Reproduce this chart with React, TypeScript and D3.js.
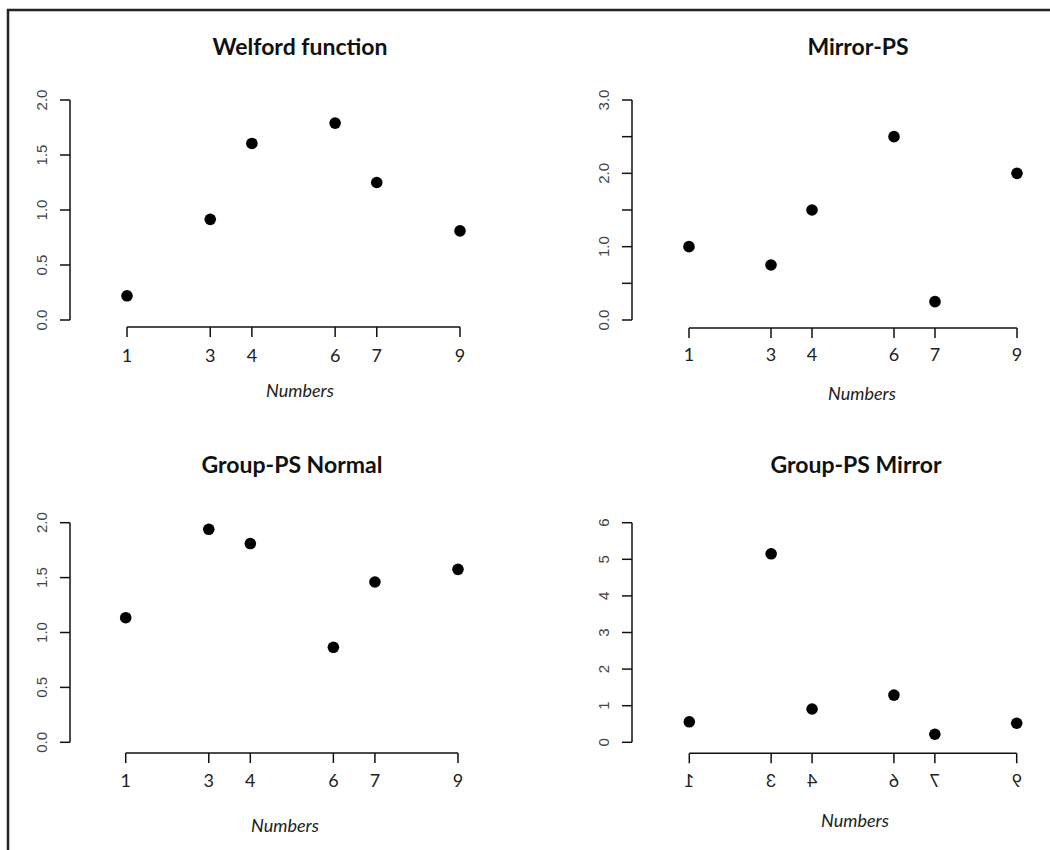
import React from 'react';
import * as d3 from 'd3';

// x positions shared by all four panels
const numbers = [1, 3, 4, 6, 7, 9];

const welfordValues = [0.22, 0.915, 1.605, 1.79, 1.25, 0.81];
const mirrorPsValues = [1.0, 0.75, 1.5, 2.5, 0.25, 2.0];
const groupNormalValues = [1.135, 1.94, 1.81, 0.865, 1.46, 1.575];
const groupMirrorValues = [0.56, 5.15, 0.91, 1.29, 0.22, 0.52];

const welfordTicks = [0, 0.5, 1, 1.5, 2];
const mirrorPsTicks = [0, 0.5, 1, 1.5, 2, 2.5, 3];
const mirrorPsLabelled = [0, 1, 2, 3];
const groupNormalTicks = [0, 0.5, 1, 1.5, 2];
const groupMirrorTicks = [0, 1, 2, 3, 4, 5, 6];

const titles = ['Welford function', 'Mirror-PS', 'Group-PS Normal', 'Group-PS Mirror'];
const xLabel = 'Numbers';

const titleFont = 'Lato, "Open Sans", sans-serif';
const yTickFont = '"Liberation Sans", Arial, sans-serif';

type PanelProps = {
  title: string;
  values: number[];
  yDomain: [number, number];
  yTicks: number[];
  yLabelled: number[];
  yFormat: (v: number) => string;
  yRange: [number, number];
  yAxisX: number;
  xRange: [number, number];
  xAxisY: number;
  titleX: number;
  titleY: number;
  tickLabelY: number;
  xLabelX: number;
  xLabelY: number;
  yLabelX: number;
  mirrored?: boolean;
};

const Panel = (p: PanelProps) => {
  const x = d3.scaleLinear().domain([1, 9]).range(p.xRange);
  const y = d3.scaleLinear().domain(p.yDomain).range(p.yRange);
  const tickLen = 10;

  return (
    <g>
      <text x={p.titleX} y={p.titleY} textAnchor="middle" fontFamily={titleFont}
        fontWeight="bold" fontSize={23} fill="#111">{p.title}</text>

      {/* y axis */}
      <line x1={p.yAxisX} x2={p.yAxisX} y1={y(p.yDomain[0])} y2={y(p.yDomain[1])}
        stroke="#111" strokeWidth={1.5} />
      {p.yTicks.map(t => (
        <line key={'yt' + t} x1={p.yAxisX - tickLen} x2={p.yAxisX} y1={y(t)} y2={y(t)}
          stroke="#111" strokeWidth={1.5} />
      ))}
      {p.yLabelled.map(t => (
        <text key={'yl' + t} transform={`translate(${p.yLabelX},${y(t)}) rotate(-90)`}
          textAnchor="middle" fontFamily={yTickFont} fontSize={15} fill="#444">
          {p.yFormat(t)}
        </text>
      ))}

      {/* x axis */}
      <line x1={x(numbers[0])} x2={x(numbers[numbers.length - 1])} y1={p.xAxisY} y2={p.xAxisY}
        stroke="#111" strokeWidth={1.5} />
      {numbers.map(n => (
        <line key={'xt' + n} x1={x(n)} x2={x(n)} y1={p.xAxisY} y2={p.xAxisY + tickLen}
          stroke="#111" strokeWidth={1.5} />
      ))}
      {numbers.map(n => (
        <text key={'xl' + n}
          transform={`translate(${x(n)},${p.tickLabelY})${p.mirrored ? ' scale(-1,1)' : ''}`}
          textAnchor="middle" fontFamily={titleFont} fontSize={18} fill="#222">{n}</text>
      ))}
      <text x={p.xLabelX} y={p.xLabelY} textAnchor="middle" fontFamily={titleFont}
        fontStyle="italic" fontSize={18} fill="#222">{xLabel}</text>

      {/* points */}
      {p.values.map((v, i) => (
        <circle key={'pt' + i} cx={x(numbers[i])} cy={y(v)} r={5.8} fill="#000" />
      ))}
    </g>
  );
};

const fmt1 = d3.format('.1f');
const fmt0 = d3.format('d');

const App = () => {
  return (
    <svg width={1050} height={850}
      style={{ position: 'absolute', left: 0, top: 0, background: '#fff' }}>
      <rect x={0} y={0} width={1050} height={850} fill="#fff" />
      <path d="M8,850 V10 H1050" fill="none" stroke="#222" strokeWidth={2.5} />

      <Panel title={titles[0]} values={welfordValues} yDomain={[0, 2]}
        yTicks={welfordTicks} yLabelled={welfordTicks} yFormat={fmt1}
        yRange={[320, 100]} yAxisX={70} xRange={[127, 460]} xAxisY={327}
        titleX={300} titleY={55} tickLabelY={362} xLabelX={300} xLabelY={397} yLabelX={47} />

      <Panel title={titles[1]} values={mirrorPsValues} yDomain={[0, 3]}
        yTicks={mirrorPsTicks} yLabelled={mirrorPsLabelled} yFormat={fmt1}
        yRange={[320, 100]} yAxisX={632} xRange={[689, 1017]} xAxisY={328}
        titleX={858} titleY={55} tickLabelY={361} xLabelX={862} xLabelY={400} yLabelX={609} />

      <Panel title={titles[2]} values={groupNormalValues} yDomain={[0, 2]}
        yTicks={groupNormalTicks} yLabelled={groupNormalTicks} yFormat={fmt1}
        yRange={[742.3, 522.7]} yAxisX={70} xRange={[125.7, 458]} xAxisY={753}
        titleX={292} titleY={472.7} tickLabelY={787} xLabelX={285} xLabelY={832} yLabelX={47} />

      <Panel title={titles[3]} values={groupMirrorValues} yDomain={[0, 6]}
        yTicks={groupMirrorTicks} yLabelled={groupMirrorTicks} yFormat={fmt0}
        yRange={[742.3, 522.7]} yAxisX={632} xRange={[689.3, 1016.7]} xAxisY={753.3}
        titleX={856} titleY={472.7} tickLabelY={786.7} xLabelX={855} xLabelY={826.7} yLabelX={609}
        mirrored />
    </svg>
  );
};

export default App;
